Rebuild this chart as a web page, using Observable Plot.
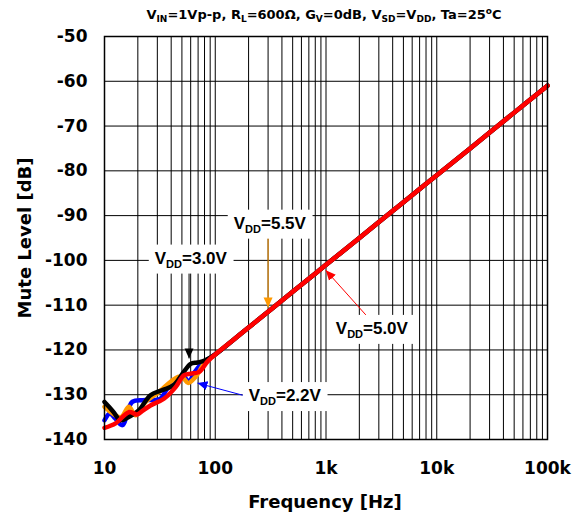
<!DOCTYPE html>
<html>
<head>
<meta charset="utf-8">
<script src="https://cdn.jsdelivr.net/npm/d3@7"></script>
<script src="https://cdn.jsdelivr.net/npm/@observablehq/plot@0.6"></script>
<style>
  html, body { margin: 0; padding: 0; background: white; }
</style>
</head>
<body>
<script>
// ---- data ----
const freqTicks = [10, 100, 1000, 10000, 100000];
const freqTickLabels = ["10", "100", "1k", "10k", "100k"];
const dbTicks = [-140, -130, -120, -110, -100, -90, -80, -70, -60, -50];

// shared high-frequency part (all supply voltages overlap)
const fHigh = [200, 500, 1000, 2000, 5000, 10000, 20000, 50000, 100000];
const dbHigh = [-115, -107, -101, -95, -87, -81, -75, -67, -61];

// VDD = 2.2V (blue)
const f22 = [10, 11.2, 12.5, 14.5, 17.8, 23.5, 32, 37, 45, 52, 58, 64, 76, 100, 150];
const db22 = [-135.7, -134.2, -135.3, -136.8, -131.6, -131.2, -130.9, -128.6, -127, -126, -127.1, -125.2, -123, -121, -117.5];
// VDD = 3.0V (black)
const f30 = [10, 12, 14, 17, 20.4, 26, 33, 42, 52, 60, 69, 80, 100, 150];
const db30 = [-131.6, -133.8, -135.7, -134.8, -133.5, -130.1, -129.0, -127.9, -124.9, -123.1, -122.8, -122.4, -121, -117.5];
// VDD = 5.5V (orange)
const f55 = [10, 14, 16.6, 19, 23.5, 31, 39.5, 47, 52, 57, 66.5, 82, 100, 150];
const db55 = [-132.7, -135, -132.7, -134.6, -131.6, -129.4, -127.1, -126, -126.4, -127.4, -126, -122.6, -121, -117.5];
// VDD = 5.0V (red)
const f50 = [10, 12.6, 16.6, 19.8, 22, 26, 34.4, 43.9, 52, 60, 71.5, 85, 100, 150];
const db50 = [-137.4, -136.4, -133.9, -134.4, -133.6, -132.4, -130.9, -128.3, -125.7, -125.3, -124.9, -122.6, -121, -117.5];

const seriesNames = ["2.2V", "5.5V", "3.0V", "5.0V"];
const seriesColors = ["#0000ff", "#ff9900", "#000000", "#ff0000"];
const seriesF = [f22, f55, f30, f50];
const seriesDb = [db22, db55, db30, db50];

// annotations
const labelText = ["VDD=5.5V", "VDD=3.0V", "VDD=5.0V", "VDD=2.2V"];
const labelFreq = [311, 60.2, 2594, 424.6];
const labelDb = [-91.7, -99.5, -115.2, -130.2];

const arrowColor = ["#ff9900", "#000000", "#ff0000", "#0000ff"];
const arrowF1 = [300, 58, 2371, 188.8];
const arrowDb1 = [-94.9, -102.2, -112.6, -130.3];
const arrowF2 = [300, 58, 995, 69.1];
const arrowDb2 = [-110.5, -121.9, -102.2, -127.4];

const titleParts = ["V", "IN", "=1Vp-p, R", "L", "=600Ω, G", "V", "=0dB, V", "SD", "=V", "DD", ", Ta=25", "o", "C"];
const titleKinds = ["", "sub", "", "sub", "", "sub", "", "sub", "", "sub", "", "sup", ""];
const xTitle = "Frequency [Hz]";
const yTitle = "Mute Level [dB]";

// ---- build tables ----
const lineData = seriesNames.map((name, s) => {
  const fs = seriesF[s].concat(fHigh);
  const ds = seriesDb[s].concat(dbHigh);
  return fs.map((f, i) => ({f, db: ds[i], name}));
});
const labels = labelText.map((t, i) => ({t, f: labelFreq[i], db: labelDb[i]}));
const arrows = arrowColor.map((c, i) => ({c, f1: arrowF1[i], d1: arrowDb1[i], f2: arrowF2[i], d2: arrowDb2[i]}));
const gridF = d3.scaleLog().domain([10, 100000]).ticks();

const W = 583, H = 518;
const axisFont = "'DejaVu Sans', sans-serif";
const labelFont = "'Liberation Sans', Arial, sans-serif";

const svg = Plot.plot({
  width: W, height: H,
  marginLeft: 104, marginRight: 36, marginTop: 36, marginBottom: 79,
  style: {background: "white", color: "black", fontFamily: axisFont, fontWeight: "bold", fontSize: "17px"},
  x: {type: "log", domain: [10, 100000], ticks: freqTicks,
      tickFormat: d => freqTickLabels[freqTicks.indexOf(d)], tickSize: 0, tickPadding: 22, label: null},
  y: {domain: [-140, -50], ticks: dbTicks, tickFormat: d => String(d), tickSize: 0, tickPadding: 17, label: null},
  marks: [
    Plot.ruleX(gridF, {stroke: "#000", strokeWidth: 1}),
    Plot.ruleY(dbTicks, {stroke: "#000", strokeWidth: 1}),
    ...lineData.map((data, s) => Plot.line(data, {x: "f", y: "db", stroke: seriesColors[s], strokeWidth: 4.5, curve: "catmull-rom"})),
    Plot.link(arrows, {x1: "f1", y1: "d1", x2: "f2", y2: "d2", stroke: "c", strokeWidth: 1, markerEnd: "arrow"}),
    Plot.text(labels, {x: "f", y: "db", text: "t", fontFamily: labelFont, fontWeight: "bold", fontSize: 17, fill: "black"}),
    Plot.frame({stroke: "black", strokeWidth: 1.5})
  ]
});
document.body.append(svg);

const root = d3.select(svg);

// filled arrowheads
root.selectAll("marker").each(function() {
  const m = d3.select(this);
  const col = m.attr("stroke");
  m.attr("markerWidth", 20).attr("markerHeight", 20)
   .attr("fill", col).attr("stroke", "none");
  m.selectAll("path").attr("d", "M-5,-2.25L0,0L-5,2.25Z").attr("fill", col).attr("stroke", "none");
});

function rich(textSel, parts, kinds, mainSize, subSize, subShift, supShift) {
  textSel.text(null);
  let cur = 0;
  parts.forEach((t, i) => {
    const k = kinds[i];
    const target = k === "sub" ? subShift : k === "sup" ? -supShift : 0;
    textSel.append("tspan").attr("dy", target - cur).attr("font-size", k ? subSize : mainSize).text(t);
    cur = target;
  });
}

// annotation labels: subscript + white box
root.selectAll("text").filter(function() { return /^VDD=/.test(this.textContent); }).each(function() {
  const txt = d3.select(this);
  const m = this.textContent.match(/^V(DD)(=.*)$/);
  rich(txt, ["V", m[1], m[2]], ["", "sub", ""], 17, 11, 4, 0);
  const bb = this.getBBox();
  const rect = document.createElementNS("http://www.w3.org/2000/svg", "rect");
  rect.setAttribute("x", bb.x - 6);
  rect.setAttribute("y", bb.y - 4);
  rect.setAttribute("width", bb.width + 12);
  rect.setAttribute("height", bb.height + 8);
  rect.setAttribute("fill", "white");
  if (this.getAttribute("transform")) rect.setAttribute("transform", this.getAttribute("transform"));
  this.parentNode.insertBefore(rect, this);
});

// chart title
const t = root.append("text").attr("x", 324).attr("y", 19).attr("text-anchor", "middle")
  .attr("font-family", axisFont).attr("font-weight", "bold").attr("font-size", 13).attr("fill", "black");
rich(t, titleParts, titleKinds, 13, 9, 3, 5);

// axis titles
root.append("text").attr("x", 325).attr("y", 508).attr("text-anchor", "middle")
  .attr("font-family", axisFont).attr("font-weight", "bold").attr("font-size", 18).attr("fill", "black").text(xTitle);
root.append("text").attr("transform", "translate(31,238) rotate(-90)").attr("text-anchor", "middle")
  .attr("font-family", axisFont).attr("font-weight", "bold").attr("font-size", 18).attr("fill", "black").text(yTitle);
</script>
</body>
</html>
